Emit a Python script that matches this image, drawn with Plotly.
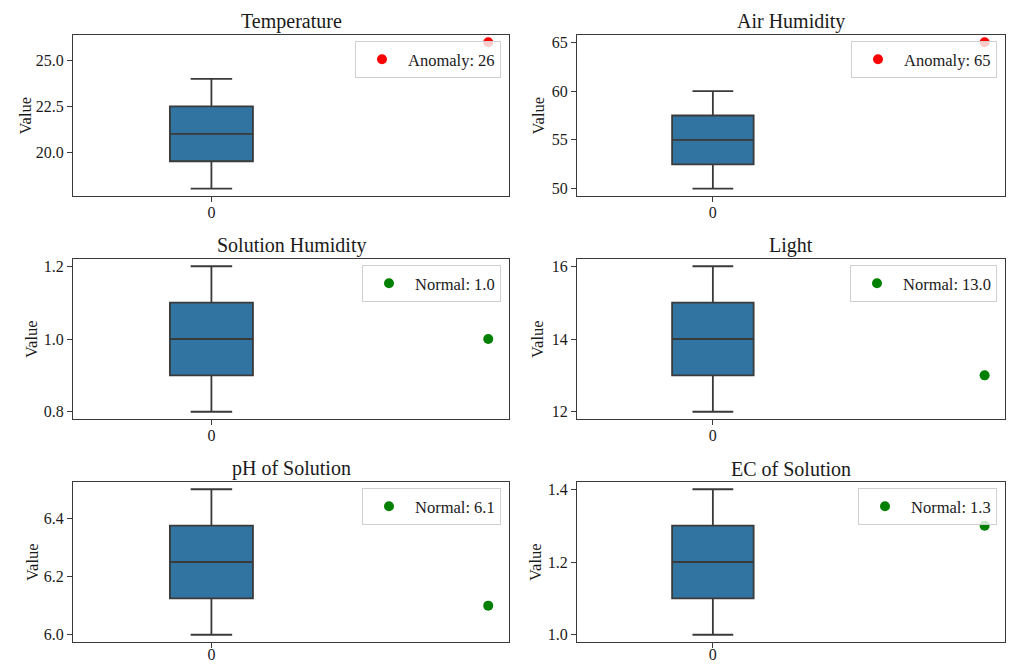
import numpy as np
import plotly.graph_objects as go

# ---- data ----
titles = ["Temperature", "Air Humidity", "Solution Humidity", "Light", "pH of Solution", "EC of Solution"]
range_values = [
    [18, 24],      # Temperature
    [50, 60],      # Air Humidity
    [0.8, 1.2],    # Solution Humidity
    [12, 16],      # Light
    [6.0, 6.5],    # pH of Solution
    [1.0, 1.4],    # EC of Solution
]
point_values = [26, 65, 1.0, 13.0, 6.1, 1.3]
point_labels = ["Anomaly: 26", "Anomaly: 65", "Normal: 1.0", "Normal: 13.0", "Normal: 6.1", "Normal: 1.3"]
point_status = ["anomaly", "anomaly", "normal", "normal", "normal", "normal"]
ytick_values = [
    [20.0, 22.5, 25.0],
    [50, 55, 60, 65],
    [0.8, 1.0, 1.2],
    [12, 14, 16],
    [6.0, 6.2, 6.4],
    [1.0, 1.2, 1.4],
]
ytick_labels = [
    ["20.0", "22.5", "25.0"],
    ["50", "55", "60", "65"],
    ["0.8", "1.0", "1.2"],
    ["12", "14", "16"],
    ["6.0", "6.2", "6.4"],
    ["1.0", "1.2", "1.4"],
]
xtick_labels = ["0"]

# ---- layout geometry (styling) ----
W, H = 1015, 664
col_px = [(73, 509), (577, 1005)]
row_px = [(35, 196), (259, 419), (482, 642)]
row_xlabel_standoff = [-3, -3, -7]
ylabel_offset = [48, 39, 41, 39, 41, 42]
FONT = "Liberation Serif, Times New Roman, serif"
TXT = "#1a1a1a"
LINE = "#3a3a3a"
status_color = {"anomaly": "#ff0000", "normal": "#008000"}

fig = go.Figure()
annotations = []
layout = dict(
    width=W, height=H,
    margin=dict(l=0, r=0, t=0, b=0, autoexpand=False),
    paper_bgcolor="white", plot_bgcolor="white",
    font=dict(family=FONT, size=16, color=TXT),
    showlegend=True,
)

for i, title in enumerate(titles):
    r, c = divmod(i, 2)
    x0, x1 = col_px[c]
    ytop, ybot = row_px[r]
    xd = [x0 / W, x1 / W]
    yd = [1 - ybot / H, 1 - ytop / H]
    ax = "" if i == 0 else str(i + 1)
    xa, ya = "x" + ax, "y" + ax
    lg = "legend" if i == 0 else "legend" + str(i + 1)

    vals = np.array(range_values[i], dtype=float)
    q1, med, q3 = np.percentile(vals, [25, 50, 75])
    fig.add_trace(go.Box(
        x=[0], q1=[q1], median=[med], q3=[q3],
        lowerfence=[vals.min()], upperfence=[vals.max()],
        width=0.3, whiskerwidth=0.5,
        fillcolor="#3274a1", line=dict(color=LINE, width=1.8),
        boxpoints=False, showlegend=False, xaxis=xa, yaxis=ya,
    ))
    fig.add_trace(go.Scatter(
        x=[1], y=[point_values[i]], mode="markers",
        marker=dict(color=status_color[point_status[i]], size=10),
        name=point_labels[i], legend=lg, xaxis=xa, yaxis=ya,
    ))

    allv = list(vals) + [point_values[i]]
    lo, hi = min(allv), max(allv)
    pad = 0.05 * (hi - lo)

    axis_common = dict(
        showline=True, mirror=True, linecolor=LINE, linewidth=1.3,
        ticks="outside", ticklen=5, tickwidth=1.3, tickcolor=LINE,
        showgrid=False, zeroline=False, automargin=False,
        tickfont=dict(family=FONT, size=16, color=TXT),
    )
    layout["xaxis" + ax] = dict(
        domain=xd, anchor=ya, range=[-0.5, 1.075],
        tickmode="array", tickvals=[0], ticktext=xtick_labels,
        ticklabelstandoff=row_xlabel_standoff[r], **axis_common,
    )
    layout["yaxis" + ax] = dict(
        domain=yd, anchor=xa, range=[lo - pad, hi + pad],
        tickmode="array", tickvals=ytick_values[i], ticktext=ytick_labels[i], **axis_common,
    )
    layout[lg] = dict(
        x=(x1 - 8) / W, y=1 - (ytop + 6) / H, xanchor="right", yanchor="top",
        bgcolor="rgba(255,255,255,0.8)", bordercolor="#d0d0d0", borderwidth=1,
        itemwidth=42,
        font=dict(family=FONT, size=16.5, color=TXT),
    )
    annotations.append(dict(
        text=title, x=(x0 + x1) / 2 / W, y=yd[1], xref="paper", yref="paper",
        xanchor="center", yanchor="bottom", yshift=0, showarrow=False,
        font=dict(family=FONT, size=20, color=TXT),
    ))
    annotations.append(dict(
        text="Value", x=(x0 - ylabel_offset[i]) / W, y=(yd[0] + yd[1]) / 2,
        xref="paper", yref="paper",
        xanchor="center", yanchor="middle", textangle=-90, showarrow=False,
        font=dict(family=FONT, size=16.5, color=TXT),
    ))

layout["annotations"] = annotations
fig.update_layout(**layout)
fig.write_html("out.html")
